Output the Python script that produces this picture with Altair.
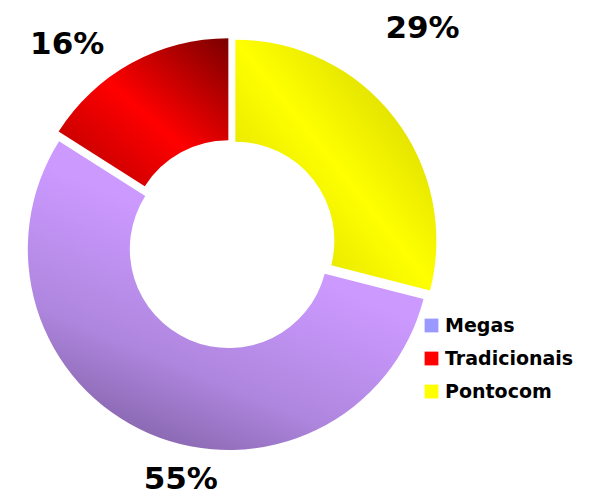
import math
import altair as alt
import pandas as pd

# ---- data ----
names = ["Pontocom", "Megas", "Tradicionais"]
values = [29, 55, 16]
order = [0, 1, 2]
legend_order = ["Megas", "Tradicionais", "Pontocom"]
legend_colors = ["#9999FF", "#FF0000", "#FFFF00"]

# ---- styles ----
gradients = {
    "Pontocom": alt.LinearGradient(
        gradient="linear", x1=0, y1=1, x2=1, y2=0,
        stops=[alt.GradientStop(offset=0, color="#CFCF00"),
               alt.GradientStop(offset=0.5, color="#FFFF00"),
               alt.GradientStop(offset=1, color="#C8C800")]),
    "Megas": alt.LinearGradient(
        gradient="linear", x1=0.1, y1=0.95, x2=0.45, y2=0.3,
        stops=[alt.GradientStop(offset=0, color="#7E5EA2"),
               alt.GradientStop(offset=0.45, color="#AE86DE"),
               alt.GradientStop(offset=1, color="#CC99FF")]),
    "Tradicionais": alt.LinearGradient(
        gradient="linear", x1=0, y1=1, x2=1, y2=0,
        stops=[alt.GradientStop(offset=0, color="#B00000"),
               alt.GradientStop(offset=0.5, color="#FF0000"),
               alt.GradientStop(offset=1, color="#7A0000")]),
}
label_shift = {"Pontocom": (-10, -59), "Megas": (51, 2), "Tradicionais": (-41, 24)}
explode = 5.5
inner_r, outer_r, label_r = 99, 201, 255

df = pd.DataFrame({"name": names, "value": values, "order": order})
total = sum(values)
theta_scale = alt.Scale(domain=[0, total], range=[0, 2 * math.pi])

base = (
    alt.Chart(df)
    .transform_window(cum="sum(value)", sort=[alt.SortField("order")])
    .transform_calculate(
        start="datum.cum - datum.value",
        mid="datum.cum - datum.value / 2",
        label="datum.value + '%'",
    )
)

layers = []
cum = 0
for n, v in zip(names, values):
    ang = (cum + v / 2) / total * 2 * math.pi
    cum += v
    ox = explode * math.sin(ang)
    oy = -explode * math.cos(ang)
    layers.append(
        base.transform_filter(alt.datum.name == n)
        .mark_arc(innerRadius=inner_r, outerRadius=outer_r, color=gradients[n],
                  xOffset=ox, yOffset=oy)
        .encode(theta=alt.Theta("start:Q", scale=theta_scale), theta2="cum:Q")
    )

for n in names:
    dx, dy = label_shift[n]
    layers.append(
        base.transform_filter(alt.datum.name == n)
        .mark_text(radius=label_r, dx=dx, dy=dy, font="DejaVu Sans", fontSize=31,
                   fontWeight="bold", align="center", baseline="middle", color="black")
        .encode(theta=alt.Theta("mid:Q", scale=theta_scale), text="label:N")
    )

legend_layer = base.mark_square(opacity=0).encode(
    color=alt.Color(
        "name:N",
        scale=alt.Scale(domain=legend_order, range=legend_colors),
        legend=alt.Legend(
            title=None, orient="none", legendX=414, legendY=308, padding=0,
            symbolType="square", symbolSize=190, symbolOpacity=1, symbolStrokeWidth=0,
            labelFont="DejaVu Sans", labelFontWeight="bold", labelFontSize=19,
            labelColor="black", labelOffset=4, rowPadding=13,
        ),
    )
)
layers.append(legend_layer)

chart = (
    alt.layer(*layers)
    .properties(width=446, height=472, padding=0, background="white")
    .configure_view(stroke=None)
)

chart.save("out.html", embed_options={"renderer": "svg", "actions": False})
